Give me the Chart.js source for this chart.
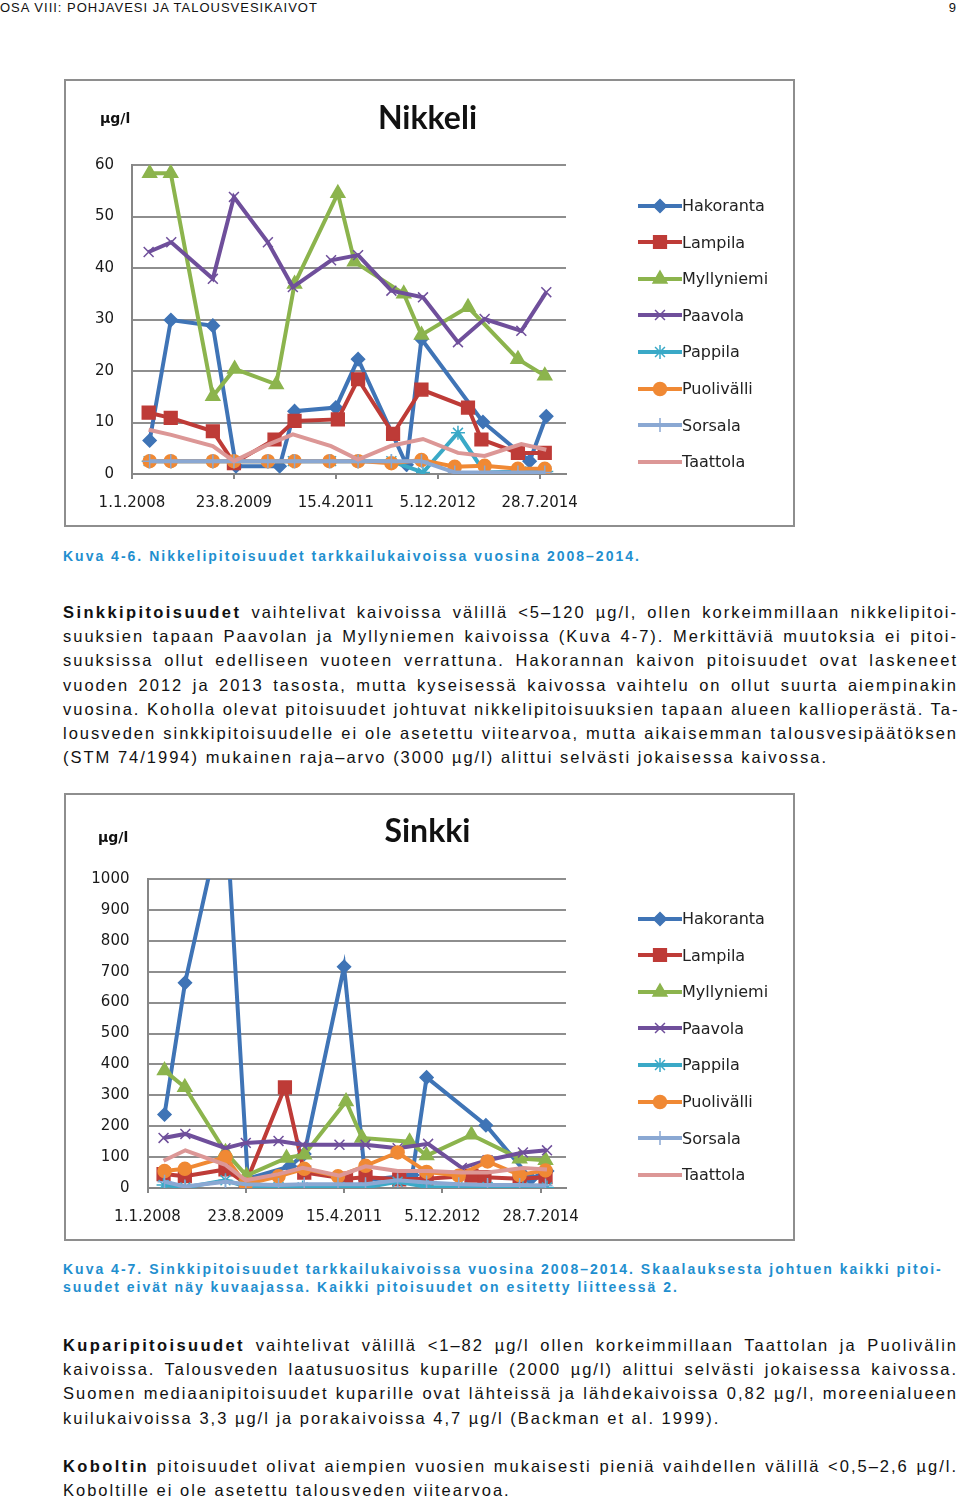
<!DOCTYPE html>
<html>
<head>
<meta charset="utf-8">
<script src="https://cdn.jsdelivr.net/npm/chart.js@4.4.1/dist/chart.umd.min.js"></script>
<style>
  html, body { margin: 0; padding: 0; background: #fff; }
  body { position: relative; width: 960px; height: 1498px; overflow: hidden; font-family: "Liberation Sans", Arial, sans-serif; color: #111; }
  .hdr { position: absolute; top: 0; font-size: 13px; line-height: 15px; letter-spacing: 1px; }
  .box { position: absolute; left: 64px; width: 731px; height: 448px; border: 2px solid #8e8e8e; box-sizing: border-box; }
  .box canvas { position: absolute; left: 0; top: 0; }
  .ttl { position: absolute; left: -2px; width: 727px; text-align: center; font: bold 32px Lato, sans-serif; color: #111; line-height: 38px; }
  .unit { position: absolute; font: bold 14px "DejaVu Sans", sans-serif; color: #111; }
  .legend { position: absolute; left: 572px; font: 16px "DejaVu Sans", sans-serif; color: #222; }
  .legend .row { position: absolute; left: 0; height: 20px; white-space: nowrap; }
  .legend canvas { position: static; vertical-align: middle; }
  .legend span { vertical-align: middle; margin-left: 0px; }
  .cap { position: absolute; left: 63px; font-size: 14px; line-height: 18px; font-weight: bold; color: #1f8fcf; letter-spacing: 2px; white-space: nowrap; }
  .para { position: absolute; left: 63px; width: 895px; font-size: 16.5px; line-height: 24.2px; letter-spacing: 2px; }
  .para b { letter-spacing: 2.4px; }
  .para div { text-align: justify; text-align-last: justify; white-space: nowrap; }
  .para div.last { text-align: left; text-align-last: left; }
</style>
</head>
<body>

<div class="hdr" style="left:0">OSA VIII: POHJAVESI JA TALOUSVESIKAIVOT</div>
<div class="hdr" style="right:3px">9</div>

<div class="box" style="top:79px">
  <canvas id="nikkeli" width="727" height="444"></canvas>
  <div class="ttl" style="top:17px">Nikkeli</div>
  <div class="unit" style="left:34px; top:29px">µg/l</div>
  <div class="legend" id="legNi"></div>
</div>

<div class="cap" style="top:547px">Kuva 4-6. Nikkelipitoisuudet tarkkailukaivoissa vuosina 2008–2014.</div>

<div class="para" style="top:600px">
  <div><b>Sinkkipitoisuudet</b> vaihtelivat kaivoissa välillä &lt;5–120 µg/l, ollen korkeimmillaan nikkelipitoi-</div>
  <div>suuksien tapaan Paavolan ja Myllyniemen kaivoissa (Kuva 4-7). Merkittäviä muutoksia ei pitoi-</div>
  <div>suuksissa ollut edelliseen vuoteen verrattuna. Hakorannan kaivon pitoisuudet ovat laskeneet</div>
  <div>vuoden 2012 ja 2013 tasosta, mutta kyseisessä kaivossa vaihtelu on ollut suurta aiempinakin</div>
  <div>vuosina. Koholla olevat pitoisuudet johtuvat nikkelipitoisuuksien tapaan alueen kallioperästä. Ta-</div>
  <div>lousveden sinkkipitoisuudelle ei ole asetettu viitearvoa, mutta aikaisemman talousvesipäätöksen</div>
  <div class="last">(STM 74/1994) mukainen raja–arvo (3000 µg/l) alittui selvästi jokaisessa kaivossa.</div>
</div>

<div class="box" style="top:793px">
  <canvas id="sinkki" width="727" height="444"></canvas>
  <div class="ttl" style="top:16px">Sinkki</div>
  <div class="unit" style="left:32px; top:34px">µg/l</div>
  <div class="legend" id="legZn"></div>
</div>

<div class="cap" style="top:1260px">Kuva 4-7. Sinkkipitoisuudet tarkkailukaivoissa vuosina 2008–2014. Skaalauksesta johtuen kaikki pitoi-<br>suudet eivät näy kuvaajassa. Kaikki pitoisuudet on esitetty liitteessä 2.</div>

<div class="para" style="top:1333px">
  <div><b>Kuparipitoisuudet</b> vaihtelivat välillä &lt;1–82 µg/l ollen korkeimmillaan Taattolan ja Puolivälin</div>
  <div>kaivoissa. Talousveden laatusuositus kuparille (2000 µg/l) alittui selvästi jokaisessa kaivossa.</div>
  <div>Suomen mediaanipitoisuudet kuparille ovat lähteissä ja lähdekaivoissa 0,82 µg/l, moreenialueen</div>
  <div class="last">kuilukaivoissa 3,3 µg/l ja porakaivoissa 4,7 µg/l (Backman et al. 1999).</div>
</div>

<div class="para" style="top:1454px">
  <div><b>Koboltin</b> pitoisuudet olivat aiempien vuosien mukaisesti pieniä vaihdellen välillä &lt;0,5–2,6 µg/l.</div>
  <div class="last">Koboltille ei ole asetettu talousveden viitearvoa.</div>
</div>

<script>
// wells (legend order)
var wells = ['Hakoranta', 'Lampila', 'Myllyniemi', 'Paavola', 'Pappila', 'Puolivälli', 'Sorsala', 'Taattola'];

// x axis: days since 1.1.2008
var xTickDays = [0, 600, 1200, 1800, 2400];
var xTickLabels = ['1.1.2008', '23.8.2009', '15.4.2011', '5.12.2012', '28.7.2014'];

// sampling days of each well
var hakorantaDays  = [104, 229, 476, 612, 869, 957, 1200, 1331, 1616, 1704, 2066, 2341, 2439];
var lampilaDays    = [98, 228, 476, 600, 839, 957, 1212, 1331, 1537, 1704, 1978, 2057, 2272, 2430];
var myllyniemiDays = [104, 228, 476, 604, 849, 957, 1212, 1310, 1600, 1704, 1978, 2272, 2430];
var paavolaDays    = [98, 231, 476, 600, 800, 947, 1172, 1331, 1527, 1713, 1919, 2076, 2292, 2439];
var pappilaDays    = [98, 231, 476, 600, 800, 947, 1172, 1331, 1527, 1713, 1919, 2076, 2292, 2439];
var puolivaliDays  = [104, 228, 476, 600, 800, 957, 1163, 1331, 1527, 1704, 1900, 2076, 2272, 2430];
var sorsalaDays    = [104, 228, 476, 600, 800, 957, 1163, 1331, 1527, 1704, 1900, 2076, 2272, 2430];
var taattolaDays   = [98, 231, 476, 600, 800, 947, 1172, 1331, 1527, 1713, 1919, 2076, 2292, 2439];

// Nikkeli, µg/l
var niHakoranta  = [6.5, 29.9, 28.8, 1.5, 1.5, 12.2, 12.9, 22.3, 1.8, 26.2, 10.1, 2.5, 11.2];
var niLampila    = [11.9, 10.9, 8.3, 2.1, 6.7, 10.3, 10.6, 18.4, 7.8, 16.4, 12.9, 6.7, 4.1, 4.1];
var niMyllyniemi = [58.4, 58.4, 15.1, 20.4, 17.4, 36.9, 54.5, 41.2, 35, 27, 32.4, 22.3, 19.1];
var niPaavola    = [43.1, 45, 37.9, 53.8, 45, 36.3, 41.5, 42.5, 35.6, 34.3, 25.6, 30.1, 27.8, 35.3];
var niPappila    = [2.5, 2.5, 2.5, 2.5, 2.5, 2.5, 2.5, 2.5, 2.5, 0.3, 8, 0.3, 0.5, 0.5];
var niPuolivali  = [2.5, 2.5, 2.5, 2.5, 2.5, 2.5, 2.5, 2.5, 2.1, 2.7, 1.4, 1.6, 1, 1];
var niSorsala    = [2.5, 2.5, 2.5, 2.5, 2.5, 2.5, 2.5, 2.5, 2.5, 2.5, 0.3, 0.3, 0.3, 0.3];
var niTaattola   = [8.6, 7.6, 5.4, 2.5, 5.7, 7.7, 5.4, 2.8, 5.5, 6.8, 4.1, 3.5, 5.8, 4.7];

// Sinkki, µg/l
var znHakoranta  = [238, 664, 1250, 30, 70, 110, 716, 25, 42, 358, 203, 30, 55];
var znLampila    = [45, 38, 60, 15, 326, 50, 30, 35, 28, 30, 40, 35, 30, 35];
var znMyllyniemi = [380, 326, 116, 40, 97, 108, 280, 162, 150, 105, 172, 95, 90];
var znPaavola    = [162, 175, 129, 146, 152, 140, 140, 140, 129, 143, 65, 90, 115, 122];
var znPappila    = [10, 2, 25, 5, 3, 2, 3, 2, 20, 3, 2, 3, 2, 2];
var znPuolivali  = [55, 62, 100, 12, 38, 62, 38, 72, 115, 52, 40, 86, 42, 57];
var znSorsala    = [20, 5, 20, 12, 10, 12, 12, 12, 25, 18, 12, 10, 10, 8];
var znTaattola   = [88, 122, 75, 25, 45, 65, 40, 70, 55, 55, 50, 50, 65, 60];

var wellDays = [hakorantaDays, lampilaDays, myllyniemiDays, paavolaDays, pappilaDays, puolivaliDays, sorsalaDays, taattolaDays];
var niValues = [niHakoranta, niLampila, niMyllyniemi, niPaavola, niPappila, niPuolivali, niSorsala, niTaattola];
var znValues = [znHakoranta, znLampila, znMyllyniemi, znPaavola, znPappila, znPuolivali, znSorsala, znTaattola];

// series styles (Excel look)
var colors = ['#3f74b6', '#be3b37', '#8cb44d', '#6f4f9b', '#3aa9c7', '#f08934', '#8aa8d3', '#dc9796'];
var markers = ['rectRot', 'rect', 'triangle', 'crossRot', 'star', 'circle', 'cross', false];
var radii = [6.5, 9, 8, 7, 7, 6.5, 7, 0];

Chart.defaults.font.family = 'DejaVu Sans';
Chart.defaults.font.size = 15;
Chart.defaults.color = '#1a1a1a';

function makeChart(id, values, yMax, yStep, yWidth) {
  var datasets = wells.map(function (w, i) {
    return {
      label: w,
      data: wellDays[i].map(function (d, j) { return { x: d, y: values[i][j] }; }),
      borderColor: colors[i],
      backgroundColor: colors[i],
      borderWidth: 4,
      tension: 0,
      pointStyle: markers[i] || 'circle',
      pointRadius: radii[i],
      pointBorderWidth: 1.5,
      order: wells.length - 1 - i
    };
  });
  return new Chart(document.getElementById(id), {
    type: 'line',
    data: { datasets: datasets },
    options: {
      responsive: false,
      animation: false,
      devicePixelRatio: 1,
      layout: { padding: { left: 0, right: 227, top: 84, bottom: 11 } },
      plugins: {
        legend: { display: false },
        tooltip: { enabled: false },
        title: { display: false }
      },
      scales: {
        x: {
          type: 'linear',
          min: 0,
          max: 2555,
          afterBuildTicks: function (s) { s.ticks = xTickDays.map(function (v) { return { value: v }; }); },
          afterFit: function (s) { s.height = 40; },
          ticks: {
            autoSkip: false,
            maxRotation: 0,
            padding: 15,
            callback: function (v) { return xTickLabels[xTickDays.indexOf(v)]; }
          },
          grid: { drawOnChartArea: false, drawTicks: true, tickLength: 5, color: '#868686', lineWidth: 2 },
          border: { display: true, color: '#868686', width: 2 }
        },
        y: {
          min: 0,
          max: yMax,
          afterFit: function (s) { s.width = yWidth; },
          ticks: { stepSize: yStep, padding: 18, callback: function (v) { return String(v); } },
          grid: { color: '#8e8e8e', lineWidth: 2, drawTicks: false },
          border: { display: true, color: '#868686', width: 2 }
        }
      }
    }
  });
}

function makeLegend(id, top) {
  var leg = document.getElementById(id);
  wells.forEach(function (w, i) {
    var row = document.createElement('div');
    row.className = 'row';
    row.style.top = (top + i * 36.6 - 10) + 'px';
    var cv = document.createElement('canvas');
    cv.width = 44; cv.height = 20;
    var c = cv.getContext('2d');
    c.strokeStyle = colors[i];
    c.lineWidth = 4;
    c.beginPath(); c.moveTo(0, 10); c.lineTo(44, 10); c.stroke();
    if (markers[i]) {
      c.fillStyle = colors[i];
      c.lineWidth = 1.5;
      Chart.helpers.drawPoint(c, { pointStyle: markers[i], radius: radii[i], borderWidth: 1.5, rotation: 0 }, 22, 10);
    }
    var sp = document.createElement('span');
    sp.textContent = w;
    row.appendChild(cv);
    row.appendChild(sp);
    leg.appendChild(row);
  });
}

makeChart('nikkeli', niValues, 60, 10, 66);
makeChart('sinkki', znValues, 1000, 100, 81.5);
makeLegend('legNi', 124);
makeLegend('legZn', 123);
</script>
</body>
</html>
